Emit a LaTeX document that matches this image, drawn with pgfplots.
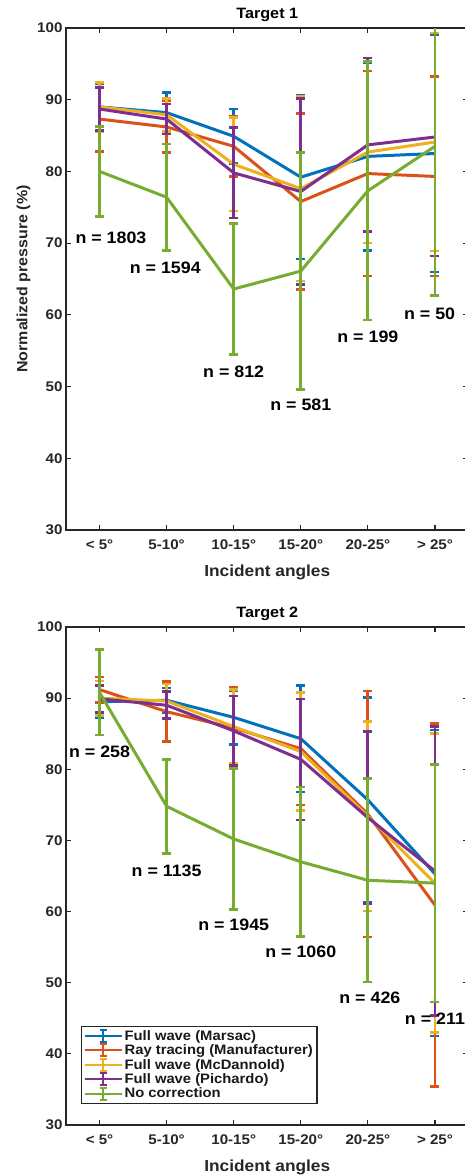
\documentclass[border=0pt]{standalone}
\usepackage{fontspec}
\setmainfont{Liberation Sans}[FakeStretch=1.08]
\usepackage{pgfplots}
\pgfplotsset{compat=1.18}

\definecolor{mblue}{rgb}{0,0.447,0.741}
\definecolor{morange}{rgb}{0.850,0.325,0.098}
\definecolor{myellow}{rgb}{0.929,0.694,0.125}
\definecolor{mpurple}{rgb}{0.494,0.184,0.556}
\definecolor{mgreen}{rgb}{0.466,0.674,0.188}
\definecolor{axgray}{rgb}{0.15,0.15,0.15}

\tikzset{nlab/.style={font=\bfseries\fontsize{16.5}{16.5}\selectfont, text=black}}

\pgfplotsset{
  mlab/.style={
    scale only axis, width=402.5pt,
    xmin=0.5, xmax=6.5, ymin=30, ymax=100,
    xtick={1,...,6},
    xticklabels={< 5°, 5-10°, 10-15°, 15-20°, 20-25°, > 25°},
    ytick={30,40,...,100},
    tick align=inside, major tick length=5pt,
    axis line style={line width=1.6pt, draw=axgray},
    tick style={line width=1.2pt, draw=axgray},
    tick label style={font=\bfseries\fontsize{14}{14}\selectfont, text=axgray},
    xticklabel style={yshift=-6pt},
    /pgf/number format/assume math mode=true,
    title style={font=\bfseries\fontsize{15}{15}\selectfont, yshift=-3pt},
    xlabel style={font=\bfseries\fontsize{16}{16}\selectfont, text=axgray, yshift=-9pt},
    ylabel style={font=\bfseries\fontsize{14.8}{14.8}\selectfont, text=axgray},
    clip mode=individual,
  },
  pl/.style={line width=3pt, mark=none,
    error bars/y dir=both, error bars/y explicit,
    error bars/error bar style={line width=2.8pt},
    error bars/error mark options={rotate=90, mark size=4.5pt, line width=2.6pt}},
  ebleg/.style={legend image code/.code={
    \draw[##1, line width=2pt] (0pt,0pt) -- (37pt,0pt);
    \draw[##1, line width=2pt] (18.5pt,-6pt) -- (18.5pt,6pt);
    \draw[##1, line width=2pt] (15pt,6pt) -- (22pt,6pt);
    \draw[##1, line width=2pt] (15pt,-6pt) -- (22pt,-6pt);
  }},
}

\begin{document}
\begin{tikzpicture}
% Target 1
\begin{axis}[mlab, height=502pt,
    at={(66pt,-28pt)}, anchor=north west,
    title={Target 1},
    xlabel={Incident angles},
    ylabel={Normalized pressure (\%)},
]
\addplot[pl, color=mblue] coordinates {
  (1,89.0) +- (0,3.2) (2,88.2) +- (0,2.8) (3,84.9) +- (0,3.8)
  (4,79.2) +- (0,11.4) (5,82.1) +- (0,13.1) (6,82.5) +- (0,16.5)
};
\addplot[pl, color=morange] coordinates {
  (1,87.3) +- (0,4.5) (2,86.2) +- (0,3.6) (3,83.5) +- (0,4.2)
  (4,75.8) +- (0,12.3) (5,79.7) +- (0,14.3) (6,79.3) +- (0,13.9)
};
\addplot[pl, color=myellow] coordinates {
  (1,89.0) +- (0,3.4) (2,87.9) +- (0,2.3) (3,81.0) +- (0,6.5)
  (4,77.6) +- (0,12.9) (5,82.7) +- (0,12.7) (6,84.1) +- (0,15.2)
};
\addplot[pl, color=mpurple] coordinates {
  (1,88.7) +- (0,3.0) (2,87.3) +- (0,2.1) (3,79.8) +- (0,6.3)
  (4,77.2) +- (0,13.0) (5,83.7) +- (0,12.1) (6,84.8) +- (0,16.6)
};
\addplot[pl, color=mgreen] coordinates {
  (1,80.0) +- (0,6.3) (2,76.4) +- (0,7.4) (3,63.6) +- (0,9.1)
  (4,66.1) +- (0,16.5) (5,77.3) +- (0,18.0) (6,83.5) +- (0,20.8)
};
\node[nlab] at (axis cs:1.17,70.8) {n = 1803};
\node[nlab] at (axis cs:1.98,66.5) {n = 1594};
\node[nlab] at (axis cs:3.0,52.1) {n = 812};
\node[nlab] at (axis cs:4.0,47.4) {n = 581};
\node[nlab] at (axis cs:5.0,57.0) {n = 199};
\node[nlab] at (axis cs:5.92,60.2) {n = 50};
\end{axis}

% Target 2
\begin{axis}[mlab, height=498pt,
    at={(66pt,-627pt)}, anchor=north west,
    title={Target 2},
    xlabel={Incident angles},
    legend style={at={(rel axis cs:0.037,0.042)}, anchor=south west,
      font=\bfseries\fontsize{13.7}{15}\selectfont, text=black!90,
      draw=axgray, line width=1.4pt, fill=white,
      inner sep=2pt, row sep=-1pt, cells={anchor=west}},
    legend cell align=left,
]
\addplot[pl, color=mblue, ebleg] coordinates {
  (1,89.5) +- (0,2.3) (2,89.7) +- (0,1.7) (3,87.3) +- (0,3.8)
  (4,84.3) +- (0,7.5) (5,75.7) +- (0,14.4) (6,65.3) += (0,20.2) -= (0,22.8)
};
\addlegendentry{Full wave (Marsac)}
\addplot[pl, color=morange, ebleg] coordinates {
  (1,91.2) +- (0,1.8) (2,88.1) +- (0,4.2) (3,85.8) +- (0,5.7)
  (4,82.9) +- (0,7.9) (5,73.7) +- (0,17.3) (6,60.9) +- (0,25.5)
};
\addlegendentry{Ray tracing (Manufacturer)}
\addplot[pl, color=myellow, ebleg] coordinates {
  (1,90.0) +- (0,2.4) (2,89.6) +- (0,2.4) (3,86.0) +- (0,5.2)
  (4,82.5) +- (0,8.3) (5,73.4) +- (0,13.3) (6,64.0) +- (0,21.0)
};
\addlegendentry{Full wave (McDannold)}
\addplot[pl, color=mpurple, ebleg] coordinates {
  (1,89.9) +- (0,1.9) (2,89.0) +- (0,1.9) (3,85.4) +- (0,4.9)
  (4,81.4) +- (0,8.5) (5,73.2) +- (0,12.1) (6,65.7) +- (0,20.3)
};
\addlegendentry{Full wave (Pichardo)}
\addplot[pl, color=mgreen, ebleg] coordinates {
  (1,90.8) +- (0,6.0) (2,74.8) +- (0,6.6) (3,70.2) +- (0,9.9)
  (4,67.0) +- (0,10.5) (5,64.4) +- (0,14.3) (6,64.0) +- (0,16.7)
};
\addlegendentry{No correction}
\node[nlab] at (axis cs:1.0,82.5) {n = 258};
\node[nlab] at (axis cs:2.0,65.7) {n = 1135};
\node[nlab] at (axis cs:3.0,58.2) {n = 1945};
\node[nlab] at (axis cs:4.0,54.3) {n = 1060};
\node[nlab] at (axis cs:5.03,47.9) {n = 426};
\node[nlab] at (axis cs:6.0,45.0) {n = 211};
\end{axis}

\pgfresetboundingbox
\path (0pt,0pt) rectangle (465pt,-1175pt);
\end{tikzpicture}
\end{document}
